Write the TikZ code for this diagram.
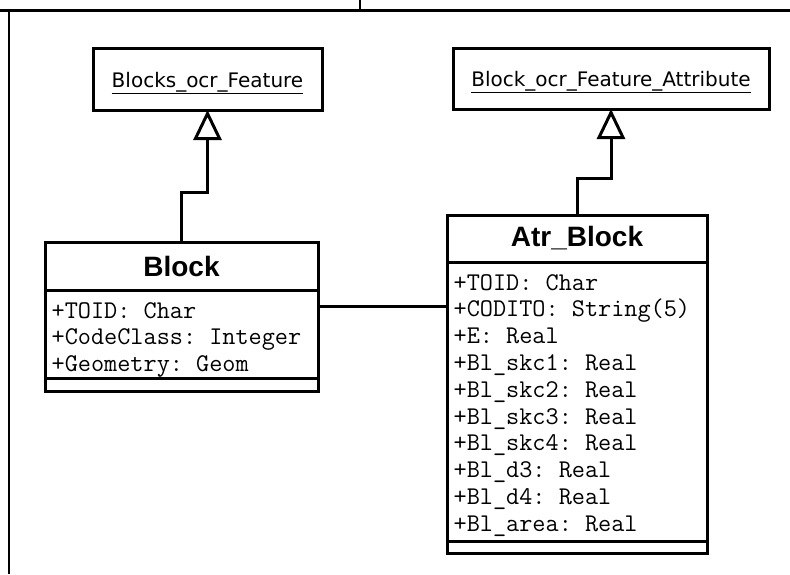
\documentclass[tikz,border=0pt]{standalone}
\usepackage{fontspec}
\setmainfont{DejaVu Sans}
\newfontfamily\headfont{Liberation Sans}
\usepackage{tikz}
\usetikzlibrary{arrows.meta,positioning}

\begin{document}
\begin{tikzpicture}[x=1pt,y=-1pt]
\tikzstyle{frame} = [line width=3pt];
\tikzstyle{super} = [draw,line width=3pt,fill=white,outer sep=0pt,inner sep=0pt,text height=20pt,text depth=4pt,font=\fontsize{20}{24}\selectfont];
\tikzstyle{head} = [draw,line width=3pt,fill=white,outer sep=0pt,inner sep=0pt,font=\headfont\bfseries\fontsize{28}{32}\selectfont];
\tikzstyle{comp} = [draw,line width=3pt,fill=white,outer sep=0pt,inner sep=0pt];
\tikzstyle{list} = [anchor=north west,inner xsep=6.5pt,inner ysep=12pt,align=left,font=\ttfamily\frenchspacing\fontsize{25.5}{26.8}\selectfont];
\tikzstyle{inherit} = [line width=3pt,-{Triangle[open,length=30pt,width=28pt,fill=white]}];
\useasboundingbox (0,0) rectangle (790,574);

% page frame
\coordinate (t0) at (0,10);
\coordinate (t1) at (790,10);
\coordinate (t2) at (360,0);
\coordinate (l0) at (9,10);
\coordinate (l1) at (9,574);
\draw[frame] (t0) -- (t1);
\draw[line width=2pt] (t2) -- (t2 |- t0);
\draw[line width=2.5pt] (l0) -- (l1);

% superclasses
\node [super,minimum width=229pt,minimum height=62pt] (Feat) at (207.5,79) {\underline{Blocks\_ocr\_Feature}};
\node [super,minimum width=316pt,minimum height=61pt] (AttrFeat) at (611,78.5) {\underline{Block\_ocr\_Feature\_Attribute}};

% class Block
\node [head,minimum width=273pt,minimum height=48pt] (Block) at (181.5,266) {Block};
\node [comp,minimum width=273pt,minimum height=88pt,below=0pt of Block] (BlockAttr) {};
\node [comp,minimum width=273pt,minimum height=13pt,below=0pt of BlockAttr] (BlockOps) {};
\node [list] (BlockList) at (BlockAttr.north west) {+TOID: Char\\+CodeClass: Integer\\+Geometry: Geom};

% class Atr_Block
\node [head,minimum width=260pt,minimum height=47pt] (Atr) at (577,238.5) {Atr\_Block};
\node [comp,minimum width=260pt,minimum height=279pt,below=0pt of Atr] (AtrAttr) {};
\node [comp,minimum width=260pt,minimum height=12pt,below=0pt of AtrAttr] (AtrOps) {};
\node [list] (AtrList) at (AtrAttr.north west) {+TOID: Char\\+CODITO: String(5)\\+E: Real\\+Bl\_skc1: Real\\+Bl\_skc2: Real\\+Bl\_skc3: Real\\+Bl\_skc4: Real\\+Bl\_d3: Real\\+Bl\_d4: Real\\+Bl\_area: Real};

% generalisation
\draw[inherit] (Block.north) -- ++(0,-50) -| (Feat.south);
\draw[inherit] (Atr.north) -- ++(0,-37) -| (AttrFeat.south);

% association
\draw[line width=3pt] (BlockAttr.north east) ++(0,16) coordinate (c1) -- (c1 -| AtrAttr.west);

\end{tikzpicture}
\end{document}
